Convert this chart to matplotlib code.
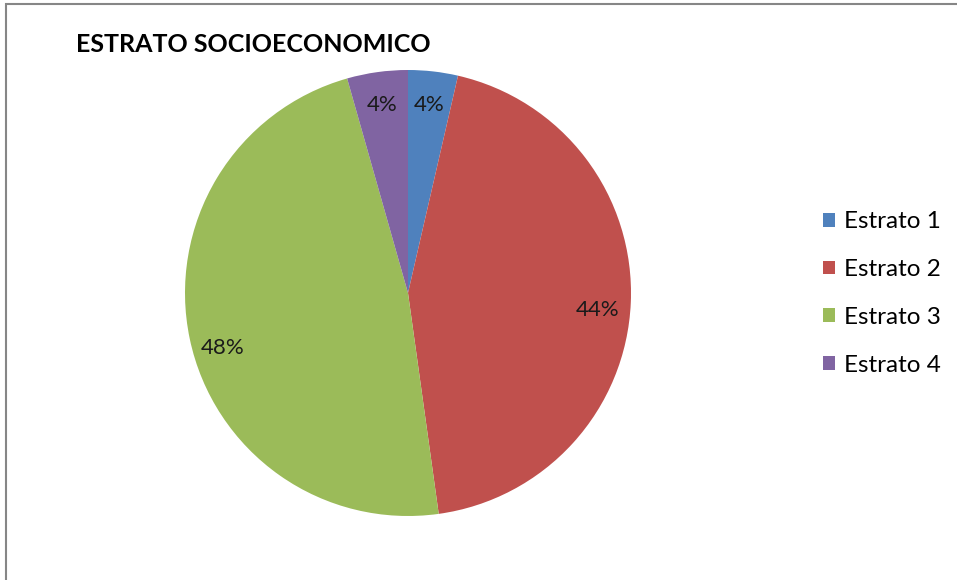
import matplotlib.pyplot as plt
from matplotlib.patches import Rectangle, Patch

plt.rcParams['font.family'] = ['Lato', 'DejaVu Sans']

categorias = ['Estrato 1', 'Estrato 2', 'Estrato 3', 'Estrato 4']
porcentajes = [3.6, 44.2, 47.8, 4.4]
colores = ['#4F81BD', '#C0504D', '#9BBB59', '#8064A2']

W, H = 957, 580
fig = plt.figure(figsize=(W / 100, H / 100), dpi=100)

# marco gris del grafico
fig.patches.append(Rectangle((5.5 / W, -0.1), 1.2, 1 - 4.5 / H + 0.1,
                             transform=fig.transFigure, fill=False,
                             edgecolor='#868686', linewidth=1.5))

cx, cy, r = 408, 293, 223
ax = fig.add_axes([(cx - r) / W, (H - cy - r) / H, 2 * r / W, 2 * r / H])
wedges, textos, pcts = ax.pie(porcentajes, colors=colores, startangle=90,
                              counterclock=False, autopct='%.0f%%',
                              pctdistance=0.85,
                              textprops={'fontsize': 16, 'color': '#1a1a1a'})
# pequeños ajustes como en Excel
pcts[1].set_y(pcts[1].get_position()[1] - 0.04)
pcts[2].set_y(pcts[2].get_position()[1] - 0.07)
ax.set_xlim(-1, 1)
ax.set_ylim(-1, 1)
ax.axis('off')

fig.text(76 / W, 1 - 45 / H, 'ESTRATO SOCIOECONOMICO', fontsize=18,
         fontweight='bold', va='center', ha='left')

handles = [Patch(facecolor=c, edgecolor='none') for c in colores]
fig.legend(handles, categorias, loc='center left',
           bbox_to_anchor=(801 / W, 1 - 293.5 / H), frameon=False,
           fontsize=17.5, handlelength=0.5, handleheight=0.5,
           handletextpad=0.35, labelspacing=1.1)

fig.savefig('out.png', dpi=100)
